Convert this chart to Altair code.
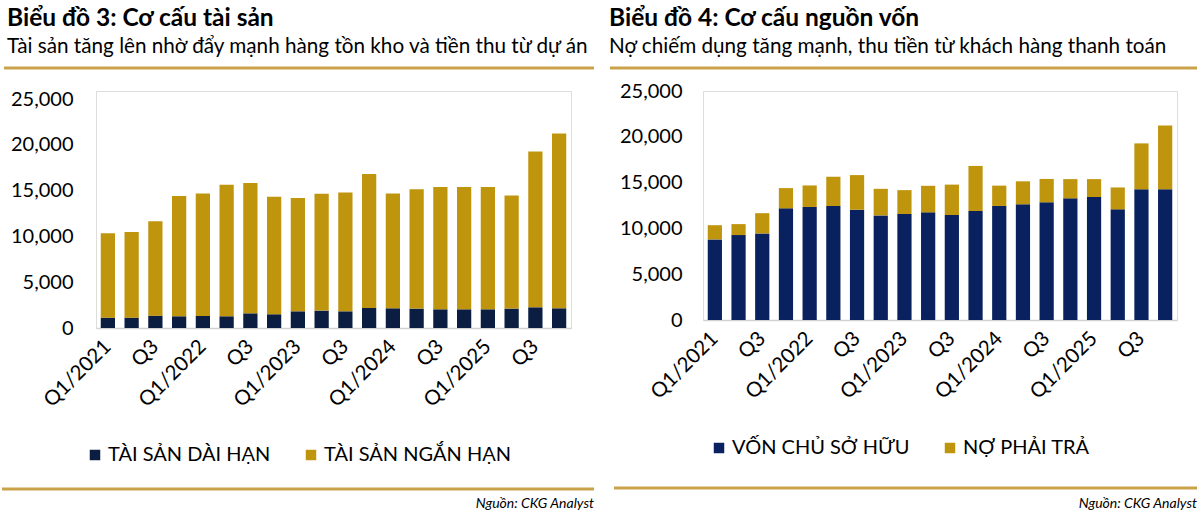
import altair as alt
import pandas as pd

quarters = [f"Q{q}/{y}" for y in range(2021, 2026) for q in range(1, 5)]

# Biểu đồ 3 – Cơ cấu tài sản
tai_san_dai_han = [1130, 1130, 1350, 1280, 1310, 1280, 1600, 1500, 1820, 1900,
                   1820, 2190, 2150, 2120, 2040, 2040, 2040, 2120, 2260, 2150]
tai_san_ngan_han = [9220, 9340, 10310, 13120, 13380, 14360, 14220, 12820, 12360, 12750,
                    12960, 14630, 12520, 13020, 13360, 13340, 13340, 12350, 17020, 19070]

# Biểu đồ 4 – Cơ cấu nguồn vốn
von_chu_so_huu = [8800, 9270, 9450, 12190, 12340, 12450, 12040, 11420, 11570, 11750,
                  11460, 11900, 12450, 12630, 12850, 13280, 13430, 12080, 14270, 14270]
no_phai_tra = [1550, 1200, 2210, 2210, 2350, 3190, 3780, 2900, 2610, 2900,
               3320, 4920, 2220, 2510, 2550, 2100, 1950, 2390, 5010, 6950]

left_series = ["TÀI SẢN DÀI HẠN", "TÀI SẢN NGẮN HẠN"]
right_series = ["VỐN CHỦ SỞ HỮU", "NỢ PHẢI TRẢ"]
y_ticks = [0, 5000, 10000, 15000, 20000, 25000]

GOLD = "#C0950E"
RULE = "#C9A24A"
NAVY_L = "#0B1D40"
NAVY_R = "#0A215F"
FONT = "Lato"


def long_df(a, b, names):
    rows = []
    for i, q in enumerate(quarters):
        rows.append({"q": q, "series": names[0], "v": a[i], "ord": 0})
        rows.append({"q": q, "series": names[1], "v": b[i], "ord": 1})
    return pd.DataFrame(rows)


label_expr = ("indexof(datum.label,'Q1')==0 ? datum.label : "
              "(indexof(datum.label,'Q3')==0 ? 'Q3' : '')")


def panel(df, names, navy, width, height, yrange, title, subtitle,
          title_x, rule_top, rule_bot, src_x, legend_x, legend_y, label_pad):
    yscale = alt.Scale(domain=[0, 25000], range=yrange) if yrange else alt.Scale(domain=[0, 25000])
    bars = alt.Chart(df).mark_bar().encode(
        x=alt.X("q:N", sort=quarters, title=None,
                scale=alt.Scale(paddingInner=0.4, paddingOuter=0.2),
                axis=alt.Axis(labelAngle=-45, labelExpr=label_expr, labelFontSize=20.5,
                              labelFont=FONT, labelColor="#000", ticks=False, grid=False,
                              domainColor="#D3D3D3", domainWidth=1.5, labelPadding=8,
                              labelOffset=-7, labelOverlap=False)),
        y=alt.Y("v:Q", stack="zero", title=None, scale=yscale,
                axis=alt.Axis(values=y_ticks, format=",.0f",
                              grid=False, domain=False, domainColor="transparent",
                              domainWidth=0, ticks=False,
                              labelFontSize=20, labelFont=FONT, labelColor="#000",
                              labelPadding=label_pad)),
        color=alt.Color("series:N", scale=alt.Scale(domain=names, range=[navy, GOLD]),
                        legend=alt.Legend(orient="none", legendX=legend_x, legendY=legend_y,
                                          direction="horizontal", title=None,
                                          symbolType="square", symbolSize=110,
                                          labelFontSize=20, labelFont=FONT, labelLimit=400,
                                          labelColor="#000", columnPadding=30,
                                          labelOffset=3, symbolStrokeWidth=0)),
        order=alt.Order("ord:Q"),
    )
    one = pd.DataFrame({"t": [title]})
    two = pd.DataFrame({"t": [subtitle]})
    src = pd.DataFrame({"t": ["Nguồn: CKG Analyst"]})
    dummy = pd.DataFrame({"k": [0]})
    t1 = alt.Chart(one).mark_text(align="left", baseline="middle", font=FONT,
                                  fontSize=24.5, fontWeight="bold", color="#000").encode(
        x=alt.value(title_x), y=alt.value(-72), text="t:N")
    t2 = alt.Chart(two).mark_text(align="left", baseline="middle", font=FONT,
                                  fontSize=20.7, color="#000").encode(
        x=alt.value(title_x), y=alt.value(-44), text="t:N")
    t3 = alt.Chart(src).mark_text(align="right", baseline="middle", font=FONT,
                                  fontSize=14, fontStyle="italic", color="#000").encode(
        x=alt.value(src_x), y=alt.value(413), text="t:N")
    r1 = alt.Chart(dummy).mark_rule(color=RULE, strokeWidth=3).encode(
        x=alt.value(rule_top[0]), x2=alt.value(rule_top[1]), y=alt.value(rule_top[2]))
    r2 = alt.Chart(dummy).mark_rule(color=RULE, strokeWidth=3).encode(
        x=alt.value(rule_bot[0]), x2=alt.value(rule_bot[1]), y=alt.value(rule_bot[2]))
    return alt.layer(bars, t1, t2, t3, r1, r2).properties(width=width, height=height)


left = panel(long_df(tai_san_dai_han, tai_san_ngan_han, left_series), left_series, NAVY_L,
             475, 237, [237, 8],
             "Biểu đồ 3: Cơ cấu tài sản",
             "Tài sản tăng lên nhờ đẩy mạnh hàng tồn kho và tiền thu từ dự án",
             -89, (-92, 498, -23), (-94, 498, 398), 498, -11, 354, 23)

right = panel(long_df(von_chu_so_huu, no_phai_tra, right_series), right_series, NAVY_R,
              474, 229, None,
              "Biểu đồ 4: Cơ cấu nguồn vốn",
              "Nợ chiếm dụng tăng mạnh, thu tiền từ khách hàng thanh toán",
              -94, (-93, 494, -23), (-89, 494, 397), 494, 6, 347, 21)

chart = alt.hconcat(left, right, spacing=132, bounds="flush").resolve_scale(
    color="independent", x="independent", y="independent"
).properties(padding={"left": 0, "top": 5, "right": 0, "bottom": 0}).configure_view(
    stroke="transparent", strokeWidth=0, strokeOpacity=0
).configure_axisY(domain=False, ticks=False, grid=False, domainOpacity=0
).configure_axisLeft(domain=False).configure(background="white")

chart.save("out.html", embed_options={"renderer": "svg", "actions": False})
